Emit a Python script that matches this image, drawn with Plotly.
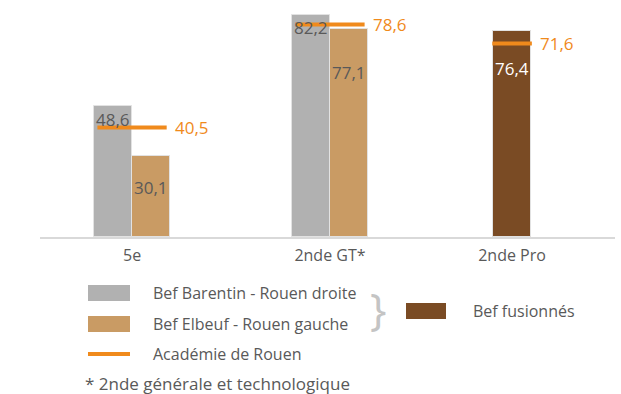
import plotly.graph_objects as go

# Success rates (%) by school level
categories = ["5e", "2nde GT*", "2nde Pro"]
barentin = [48.6, 82.2, None]      # Bef Barentin - Rouen droite
elbeuf = [30.1, 77.1, None]        # Bef Elbeuf - Rouen gauche
fusionnes = [None, None, 76.4]     # Bef fusionnés
academie = [40.5, 78.6, 71.6]      # Académie de Rouen

# Layout helpers
W, H = 621, 394
ML, MR, MT, MB = 40, 6, 10, 157
cat_pos = [0, 1, 1.92]
bar_w = 0.19
YMAX = 84

GRAY = "#B1B1B1"
TAN = "#C99B64"
BROWN = "#7A4B24"
ORANGE = "#F08A1C"
TXT = "#595959"
FONT = "Open Sans"


def fmt(v):
    return f"{v:.1f}".replace(".", ",")


def px_x(px):
    return (px - ML) / (W - ML - MR)


def px_y(py):
    return (H - MB - py) / (H - MB - MT)


fig = go.Figure()

# Bars
gx = [p - bar_w / 2 for p, v in zip(cat_pos, barentin) if v is not None]
gy = [v for v in barentin if v is not None]
tx = [p + bar_w / 2 for p, v in zip(cat_pos, elbeuf) if v is not None]
ty = [v for v in elbeuf if v is not None]
fx = [p for p, v in zip(cat_pos, fusionnes) if v is not None]
fy = [v for v in fusionnes if v is not None]

for xs, ys, col in [(gx, gy, GRAY), (tx, ty, TAN), (fx, fy, BROWN)]:
    fig.add_trace(go.Bar(x=xs, y=ys, width=bar_w, marker=dict(color=col, line=dict(color="#e2e2e2", width=1)),
                         showlegend=False, hoverinfo="skip"))

# Academy reference segments
for i, (p, v) in enumerate(zip(cat_pos, academie)):
    half = 0.1 if fusionnes[i] is not None else 0.175
    fig.add_trace(go.Scatter(x=[p - half, p + half], y=[v, v], mode="lines",
                             line=dict(color=ORANGE, width=4), showlegend=False, hoverinfo="skip"))
    fig.add_annotation(x=p + half, y=v, text=fmt(v), showarrow=False, xanchor="left", yanchor="middle",
                       xshift=6, font=dict(family=FONT, size=17, color=ORANGE))

# Value labels inside bars
label_shift = {"g": [0, 1, 0], "t": [-18, -30, 0], "f": [0, 0, -24]}
for i, v in enumerate(barentin):
    if v is not None:
        fig.add_annotation(x=cat_pos[i] - bar_w / 2, y=v, text=fmt(v), showarrow=False, yanchor="top",
                           yshift=label_shift["g"][i], font=dict(family=FONT, size=17, color=TXT))
for i, v in enumerate(elbeuf):
    if v is not None:
        fig.add_annotation(x=cat_pos[i] + bar_w / 2, y=v, text=fmt(v), showarrow=False, yanchor="top",
                           yshift=label_shift["t"][i], font=dict(family=FONT, size=17, color=TXT))
for i, v in enumerate(fusionnes):
    if v is not None:
        fig.add_annotation(x=cat_pos[i], y=v, text=fmt(v), showarrow=False, yanchor="top",
                           yshift=label_shift["f"][i], font=dict(family=FONT, size=17, color="white"))

# Custom legend
shapes = []
ann = []
legend_rows = [
    ("rect", GRAY, "Bef Barentin - Rouen droite", 293),
    ("rect", TAN, "Bef Elbeuf - Rouen gauche", 324),
    ("line", ORANGE, "Académie de Rouen", 354),
]
for kind, col, label, cy in legend_rows:
    if kind == "rect":
        shapes.append(dict(type="rect", xref="paper", yref="paper", x0=px_x(88), x1=px_x(130),
                           y0=px_y(cy + 8), y1=px_y(cy - 8), fillcolor=col, line=dict(width=0)))
    else:
        shapes.append(dict(type="line", xref="paper", yref="paper", x0=px_x(88), x1=px_x(130),
                           y0=px_y(cy), y1=px_y(cy), line=dict(color=col, width=4)))
    ann.append(dict(xref="paper", yref="paper", x=px_x(151), y=px_y(cy), text=label, showarrow=False,
                    xanchor="left", yanchor="middle", font=dict(family=FONT, size=16, color=TXT)))

shapes.append(dict(type="rect", xref="paper", yref="paper", x0=px_x(406), x1=px_x(446),
                   y0=px_y(319), y1=px_y(303), fillcolor=BROWN, line=dict(width=0)))
ann.append(dict(xref="paper", yref="paper", x=px_x(471), y=px_y(311), text="Bef fusionnés", showarrow=False,
                xanchor="left", yanchor="middle", font=dict(family=FONT, size=16, color=TXT)))
ann.append(dict(xref="paper", yref="paper", x=px_x(378), y=px_y(308), text="}", showarrow=False,
                xanchor="center", yanchor="middle", font=dict(family=FONT, size=44, color="#c4c4c4")))
ann.append(dict(xref="paper", yref="paper", x=px_x(83), y=px_y(383), text="* 2nde générale et technologique",
                showarrow=False, xanchor="left", yanchor="middle", font=dict(family=FONT, size=17, color=TXT)))

for a in ann:
    fig.add_annotation(**a)

fig.update_layout(
    width=W, height=H,
    margin=dict(l=ML, r=MR, t=MT, b=MB),
    paper_bgcolor="white", plot_bgcolor="white",
    bargap=0, barmode="overlay",
    shapes=shapes,
    xaxis=dict(range=[-0.465, 2.44], tickvals=cat_pos, ticktext=categories, showgrid=False,
               zeroline=False, showline=True, linecolor="#d9d9d9", linewidth=1.5, ticks="",
               ticklabelstandoff=3,
               tickfont=dict(family=FONT, size=16, color=TXT), fixedrange=True),
    yaxis=dict(range=[0, YMAX], visible=False, fixedrange=True),
)

fig.write_html("out.html")
